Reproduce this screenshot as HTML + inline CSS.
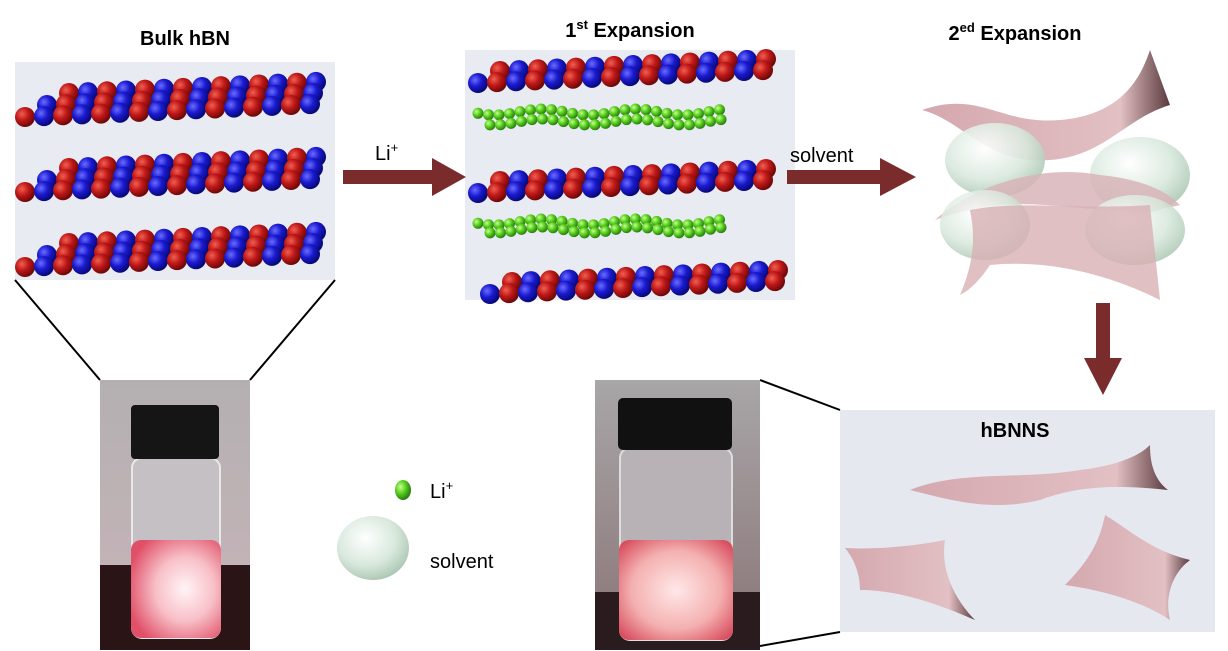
<!DOCTYPE html>
<html><head><meta charset="utf-8"><style>
html,body{margin:0;padding:0;background:#fff;width:1228px;height:651px;overflow:hidden}
svg{display:block}
text{font-family:"Liberation Sans",sans-serif}
</style></head><body>
<svg id="s" width="1228" height="651" viewBox="0 0 1228 651" xmlns="http://www.w3.org/2000/svg">
<defs>
<radialGradient id="gr" cx="35%" cy="35%" r="65%"><stop offset="0" stop-color="#f06050"/><stop offset="0.5" stop-color="#c01818"/><stop offset="1" stop-color="#700808"/></radialGradient>
<radialGradient id="gb" cx="35%" cy="35%" r="65%"><stop offset="0" stop-color="#6a6cff"/><stop offset="0.5" stop-color="#1a1ad0"/><stop offset="1" stop-color="#08087a"/></radialGradient>
<radialGradient id="gg" cx="35%" cy="35%" r="65%"><stop offset="0" stop-color="#c8ff90"/><stop offset="0.5" stop-color="#5ad020"/><stop offset="1" stop-color="#2a8010"/></radialGradient>
<radialGradient id="gs" cx="40%" cy="35%" r="70%"><stop offset="0" stop-color="#ffffff"/><stop offset="0.6" stop-color="#d8e8dc"/><stop offset="1" stop-color="#a8c4b0"/></radialGradient>
<linearGradient id="gp" x1="0" x2="1"><stop offset="0" stop-color="#d4a8ae"/><stop offset="0.8" stop-color="#e2c0c4"/><stop offset="1" stop-color="#5a3a3e"/></linearGradient>
<radialGradient id="glow" cx="60%" cy="50%" r="65%"><stop offset="0" stop-color="#fff4f6"/><stop offset="0.5" stop-color="#f8c0c8"/><stop offset="1" stop-color="#e05068"/></radialGradient>
<radialGradient id="glow2" cx="50%" cy="50%" r="65%"><stop offset="0" stop-color="#ffe8e8"/><stop offset="0.6" stop-color="#f4b0b0"/><stop offset="1" stop-color="#d85060"/></radialGradient>
<linearGradient id="bg1" x1="0" y1="0" x2="0" y2="1"><stop offset="0" stop-color="#b4b0b2"/><stop offset="1" stop-color="#c8b4b8"/></linearGradient>
<linearGradient id="bg2" x1="0" y1="0" x2="0" y2="1"><stop offset="0" stop-color="#a8a6a8"/><stop offset="1" stop-color="#8a7476"/></linearGradient>
</defs>
<rect x="15" y="62" width="320" height="218" fill="#e9ebf2"/>
<rect x="465" y="50" width="330" height="250" fill="#e9ebf2"/>
<rect x="840" y="410" width="375" height="222" fill="#e6e8f0"/>
<g id="atoms"></g>
<text x="185" y="45" font-size="20" font-weight="bold" text-anchor="middle">Bulk hBN</text>
<text x="630" y="37" font-size="20" font-weight="bold" text-anchor="middle">1<tspan font-size="13" dy="-8">st</tspan><tspan dy="8"> Expansion</tspan></text>
<text x="1015" y="40" font-size="20" font-weight="bold" text-anchor="middle">2<tspan font-size="13" dy="-8">ed</tspan><tspan dy="8"> Expansion</tspan></text>
<line x1="15" y1="280" x2="100" y2="380" stroke="#000" stroke-width="2"/>
<line x1="335" y1="280" x2="250" y2="380" stroke="#000" stroke-width="2"/>
<line x1="760" y1="380" x2="840" y2="410" stroke="#000" stroke-width="2"/>
<line x1="760" y1="646" x2="840" y2="632" stroke="#000" stroke-width="2"/>
<g fill="#7a2c2c">
<rect x="343" y="170" width="92" height="14"/><polygon points="432,158 466,177 432,196"/>
<rect x="787" y="170" width="96" height="14"/><polygon points="880,158 916,177 880,196"/>
<rect x="1096" y="303" width="14" height="58"/><polygon points="1084,358 1122,358 1103,395"/>
</g>
<text x="375" y="160" font-size="20">Li<tspan font-size="13" dy="-8">+</tspan></text>
<text x="790" y="162" font-size="20">solvent</text>
<!-- vial 1 -->
<rect x="100" y="380" width="150" height="270" fill="url(#bg1)"/>
<rect x="100" y="565" width="150" height="85" fill="#2a1416"/>
<rect x="132" y="458" width="88" height="180" rx="10" fill="#c4c0c4" stroke="#e8e8ea" stroke-width="2"/>
<rect x="131" y="540" width="90" height="98" rx="10" fill="url(#glow)"/>
<rect x="131" y="405" width="88" height="54" rx="4" fill="#151515"/>
<!-- vial 2 -->
<rect x="595" y="380" width="165" height="270" fill="url(#bg2)"/>
<rect x="595" y="592" width="165" height="58" fill="#2a1c1e"/>
<rect x="620" y="448" width="112" height="192" rx="10" fill="#b8b2b6" stroke="#ddd" stroke-width="2"/>
<rect x="619" y="540" width="114" height="100" rx="10" fill="url(#glow2)"/>
<rect x="618" y="398" width="114" height="52" rx="5" fill="#111"/>
<!-- 2nd expansion -->
<path d="M922,110 C980,90 1000,125 1060,120 C1120,115 1140,80 1150,50 L1170,105 C1120,120 1100,165 1030,160 C980,155 960,120 922,110Z" fill="url(#gp)"/>
<ellipse cx="995" cy="160" rx="50" ry="37" fill="url(#gs)" opacity="0.9"/>
<ellipse cx="1140" cy="175" rx="50" ry="38" fill="url(#gs)" opacity="0.9"/>
<path d="M935,220 C980,180 1050,165 1100,175 C1150,180 1170,195 1180,205 C1120,220 1060,200 1000,205 C970,208 950,215 935,220Z" fill="#d8b4b8" opacity="0.85"/>
<ellipse cx="985" cy="225" rx="45" ry="35" fill="url(#gs)" opacity="0.85"/>
<ellipse cx="1135" cy="230" rx="50" ry="35" fill="url(#gs)" opacity="0.85"/>
<path d="M970,210 C1020,200 1080,210 1150,205 L1160,300 C1100,270 1040,260 990,265 C980,280 970,290 960,295 C975,260 975,235 970,210Z" fill="#d8b0b4" opacity="0.8"/>
<!-- hBNNS -->
<text x="1015" y="437" font-size="20" font-weight="bold" text-anchor="middle">hBNNS</text>
<path d="M910,490 C960,470 1020,480 1080,470 C1120,465 1140,455 1150,445 C1150,465 1155,480 1168,490 C1120,485 1080,485 1040,500 C990,512 950,500 910,490Z" fill="url(#gp)"/>
<path d="M845,548 C880,550 920,545 945,540 C940,570 955,600 975,620 C940,605 900,590 860,590 C860,575 855,560 845,548Z" fill="url(#gp)"/>
<path d="M1065,585 C1090,560 1100,540 1105,515 C1130,530 1150,550 1190,560 C1170,575 1165,600 1170,620 C1140,600 1100,590 1065,585Z" fill="url(#gp)"/>
<!-- legend -->
<ellipse cx="403" cy="490" rx="8" ry="10" fill="url(#gg)"/>
<text x="430" y="498" font-size="20">Li<tspan font-size="13" dy="-8">+</tspan></text>
<ellipse cx="373" cy="548" rx="36" ry="32" fill="url(#gs)"/>
<text x="430" y="568" font-size="20">solvent</text>
</svg>
<script>
var g=document.getElementById('atoms'),ns='http://www.w3.org/2000/svg';
function c(x,y,r,f){var e=document.createElementNS(ns,'circle');e.setAttribute('cx',x);e.setAttribute('cy',y);e.setAttribute('r',r);e.setAttribute('fill',f);g.appendChild(e);}
function layer(x0,x1,y0,rows){for(var r=0;r<rows;r++){var xs=x0+ (rows-1-r)*22;for(var x=xs,i=0;x<x1-(r)*8;x+=19,i++){var y=y0+r*11-(x-x0)*0.045;c(x,y,10,((i+r)%2)?'url(#gb)':'url(#gr)');}}}
layer(25,330,95,3);layer(25,330,170,3);layer(25,330,245,3);
layer(478,785,72,2);layer(478,785,182,2);layer(490,785,283,2);
function li(x0,x1,y0){for(var x=x0;x<x1;x+=10.5){c(x,y0+Math.sin(x/15)*3,5.5,'url(#gg)');}}
li(478,720,112);li(490,730,122);li(478,720,222);li(490,730,230);
</script>
</body></html>
